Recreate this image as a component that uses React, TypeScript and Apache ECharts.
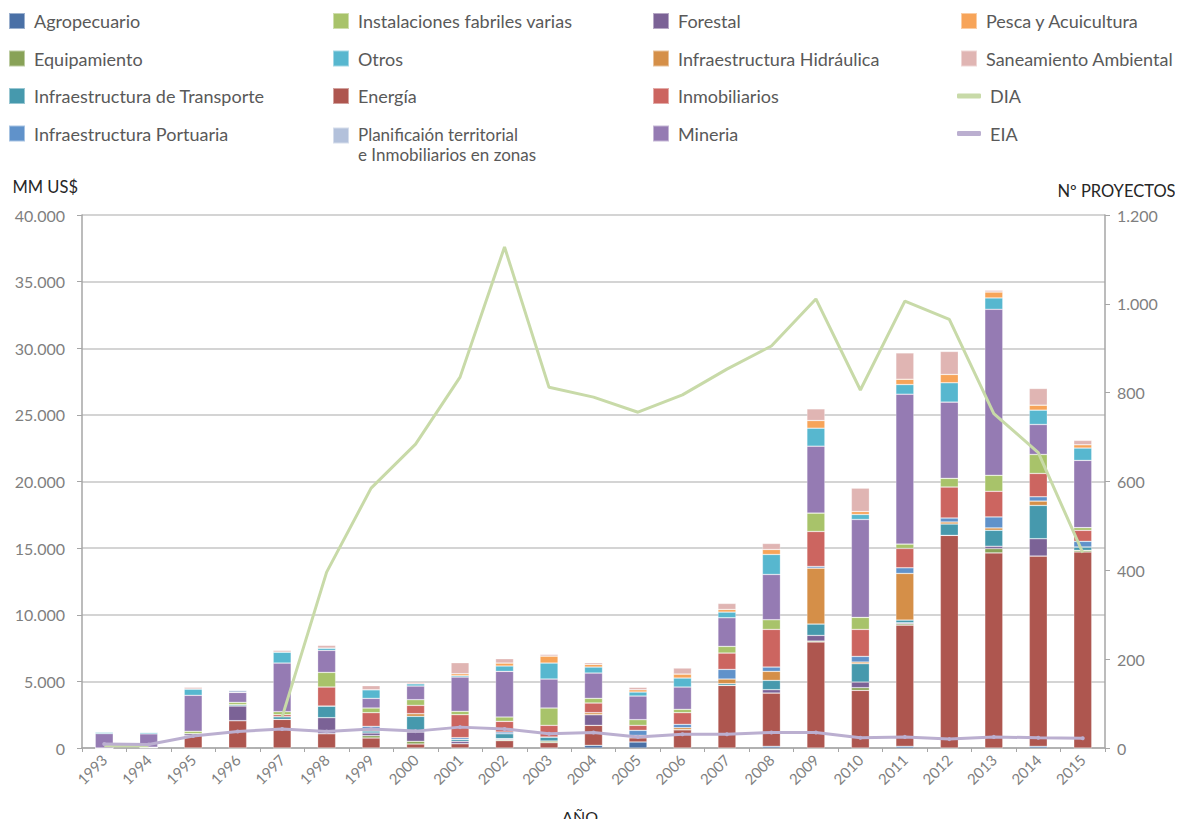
import React, { useEffect, useRef } from "react";
import * as echarts from "echarts";

const years = ["1993","1994","1995","1996","1997","1998","1999","2000","2001","2002","2003","2004","2005","2006","2007","2008","2009","2010","2011","2012","2013","2014","2015"];

// MM US$ by sector (stack order bottom -> top)
const agropecuario   = [0,0,0,0,0,0,0,0,0,0,0,200,450,0,0,125,0,0,125,0,0,125,0];
const energia        = [0,60,930,2050,2150,1075,750,300,325,550,400,1500,325,1375,4700,4000,7950,4325,9100,15960,14640,14280,14710];
const equipamiento   = [0,0,0,0,0,0,175,200,0,75,125,0,0,0,0,0,75,200,100,0,325,0,125];
const forestal       = [0,0,150,1100,0,1200,200,700,175,75,0,800,0,0,0,250,425,425,75,0,175,1300,0];
const transporte     = [0,0,0,100,200,875,150,1175,150,375,300,0,0,0,125,700,850,1375,200,850,1200,2500,250];
const hidraulica     = [0,0,0,0,0,0,100,200,0,0,0,150,175,150,350,675,4200,125,3500,150,175,325,0];
const portuaria      = [0,0,0,0,0,0,250,0,125,125,0,0,375,250,725,325,125,425,425,300,825,325,425];
const inmobiliarios  = [0,0,0,0,150,1425,1025,625,1725,800,875,725,375,875,1225,2825,2625,2025,1450,2325,1925,1750,825];
const instalaciones  = [0,0,175,175,225,1100,350,425,250,325,1300,350,425,250,500,725,1375,900,325,650,1200,1425,200];
const mineria        = [1080,1000,2700,750,3650,1650,725,1025,2575,3425,2175,1900,1775,1675,2150,3400,5025,7350,11250,5725,12460,2250,5050];
const otros          = [120,120,475,0,825,175,650,175,100,400,1200,450,300,675,425,1500,1350,375,725,1450,850,1075,925];
const pesca          = [0,0,0,0,0,0,0,0,150,225,525,200,175,300,200,375,575,225,400,625,450,375,250];
const planificacion  = [0,0,0,150,0,0,0,0,0,0,0,0,0,0,0,0,0,0,0,0,0,0,0];
const saneamiento    = [0,0,125,0,125,200,300,125,825,325,125,125,175,450,450,450,875,1750,1975,1725,125,1250,325];

// Nº proyectos
const dia = [5,5,null,null,70,396,585,684,835,1128,812,790,756,795,853,905,1011,806,1006,965,753,665,440];
const eia = [9,8,27,37,43,37,43,38,47,43,32,35,25,31,31,35,35,23,25,20,25,23,22];

const PLANIF = "Planificaión territorial\ne Inmobiliarios en zonas";

const barSeries: [string, number[], string][] = [
  ["Agropecuario", agropecuario, "#4A70A6"],
  ["Energía", energia, "#AE564F"],
  ["Equipamiento", equipamiento, "#88A257"],
  ["Forestal", forestal, "#7B6296"],
  ["Infraestructura de Transporte", transporte, "#4699AD"],
  ["Infraestructura Hidráulica", hidraulica, "#D58F48"],
  ["Infraestructura Portuaria", portuaria, "#6092CA"],
  ["Inmobiliarios", inmobiliarios, "#CC6560"],
  ["Instalaciones fabriles varias", instalaciones, "#A8C36A"],
  ["Mineria", mineria, "#957BB3"],
  ["Otros", otros, "#57B7CF"],
  ["Pesca y Acuicultura", pesca, "#F7A459"],
  [PLANIF, planificacion, "#B3C1DB"],
  ["Saneamiento Ambiental", saneamiento, "#E0B5B3"],
];

const dots = (v: number) => String(v).replace(/\B(?=(\d{3})+(?!\d))/g, ".");

export default function App() {
  const ref = useRef<HTMLDivElement>(null);
  useEffect(() => {
    if (!ref.current) return;
    const chart = echarts.init(ref.current, undefined, { renderer: "svg" });
    const font = "Lato";
    const legendText = { color: "#595959", fontSize: 18, lineHeight: 16, fontFamily: font, padding: [0, 0, 0, 4] };
    const legendBase = {
      orient: "vertical" as const,
      icon: "rect",
      itemWidth: 16,
      itemHeight: 16,
      itemGap: 19.5,
      selectedMode: false,
      textStyle: legendText,
      padding: 0,
    };
    chart.setOption({
      animation: false,
      backgroundColor: "#ffffff",
      textStyle: { fontFamily: font },
      legend: [
        { ...legendBase, left: 8, top: 12, data: ["Agropecuario", "Equipamiento", "Infraestructura de Transporte", "Infraestructura Portuaria"] },
        { ...legendBase, left: 332, top: 12, data: ["Instalaciones fabriles varias", "Otros", "Energía"] },
        {
          ...legendBase,
          left: 332,
          top: 125,
          itemHeight: 34,
          icon: "path://M0,0L16,0L16,16L0,16Z M0,34L0.01,34",
          textStyle: { ...legendText, fontSize: 17, lineHeight: 19.5 },
          data: [PLANIF],
        },
        { ...legendBase, left: 652, top: 12, data: ["Forestal", "Infraestructura Hidráulica", "Inmobiliarios", "Mineria"] },
        { ...legendBase, left: 960, top: 12, data: ["Pesca y Acuicultura", "Saneamiento Ambiental"] },
        { ...legendBase, icon: "roundRect", itemWidth: 24, itemHeight: 5, left: 957, top: 87, data: ["DIA", "EIA"] },
      ],
      grid: { left: 82, right: 78, top: 215, bottom: 79, containLabel: false, outerBoundsMode: "none" },
      xAxis: {
        type: "category",
        data: years,
        name: "AÑO",
        nameLocation: "middle",
        nameGap: 60,
        nameTextStyle: { color: "#262626", fontSize: 16, padding: [0, 27, 0, 0] },
        axisLine: { lineStyle: { color: "#A6A6A6", width: 1.5 } },
        axisTick: { show: true, length: 4, lineStyle: { color: "#A6A6A6" } },
        axisLabel: { rotate: 45, interval: 0, color: "#7F7F7F", fontSize: 15, margin: 9 },
      },
      yAxis: [
        {
          type: "value",
          min: 0,
          max: 40000,
          interval: 5000,
          name: "MM US$",
          nameLocation: "end",
          nameGap: 20,
          nameTextStyle: { color: "#262626", fontSize: 16.5, align: "right", padding: [0, 4, 0, 0] },
          axisLine: { show: true, lineStyle: { color: "#A6A6A6", width: 1.5 } },
          axisTick: { show: true, length: 5, lineStyle: { color: "#A6A6A6" } },
          splitLine: { lineStyle: { color: "#C6C6C6", width: 1.5 } },
          axisLabel: { color: "#7F7F7F", fontSize: 16, margin: 17, formatter: (v: number) => dots(v) },
        },
        {
          type: "value",
          min: 0,
          max: 1200,
          interval: 200,
          position: "right",
          name: "Nº PROYECTOS",
          nameLocation: "end",
          nameGap: 16,
          nameTextStyle: { color: "#262626", fontSize: 16.5, align: "center", padding: [0, 0, 0, 23] },
          axisLine: { show: true, lineStyle: { color: "#A6A6A6", width: 1.5 } },
          axisTick: { show: true, length: 5, lineStyle: { color: "#A6A6A6" } },
          splitLine: { show: false },
          axisLabel: { color: "#7F7F7F", fontSize: 16, margin: 12, formatter: (v: number) => dots(v) },
        },
      ],
      series: [
        ...barSeries.map(([name, data, color]) => ({
          name,
          type: "bar",
          stack: "total",
          barWidth: 18,
          data,
          itemStyle: { color, borderColor: "rgba(255,255,255,0.45)", borderWidth: 0.6 },
        })),
        {
          name: "DIA",
          type: "line",
          yAxisIndex: 1,
          data: dia,
          connectNulls: false,
          symbol: "none",
          lineStyle: { color: "#C8DAA8", width: 3 },
          itemStyle: { color: "#C8DAA8" },
          z: 5,
        },
        {
          name: "EIA",
          type: "line",
          yAxisIndex: 1,
          data: eia,
          symbol: "circle",
          symbolSize: 4,
          lineStyle: { color: "#BBAFD0", width: 3 },
          itemStyle: { color: "#BBAFD0" },
          z: 5,
        },
      ],
    });
    return () => chart.dispose();
  }, []);
  return <div ref={ref} style={{ width: 1183, height: 827, margin: -8 }} />;
}
